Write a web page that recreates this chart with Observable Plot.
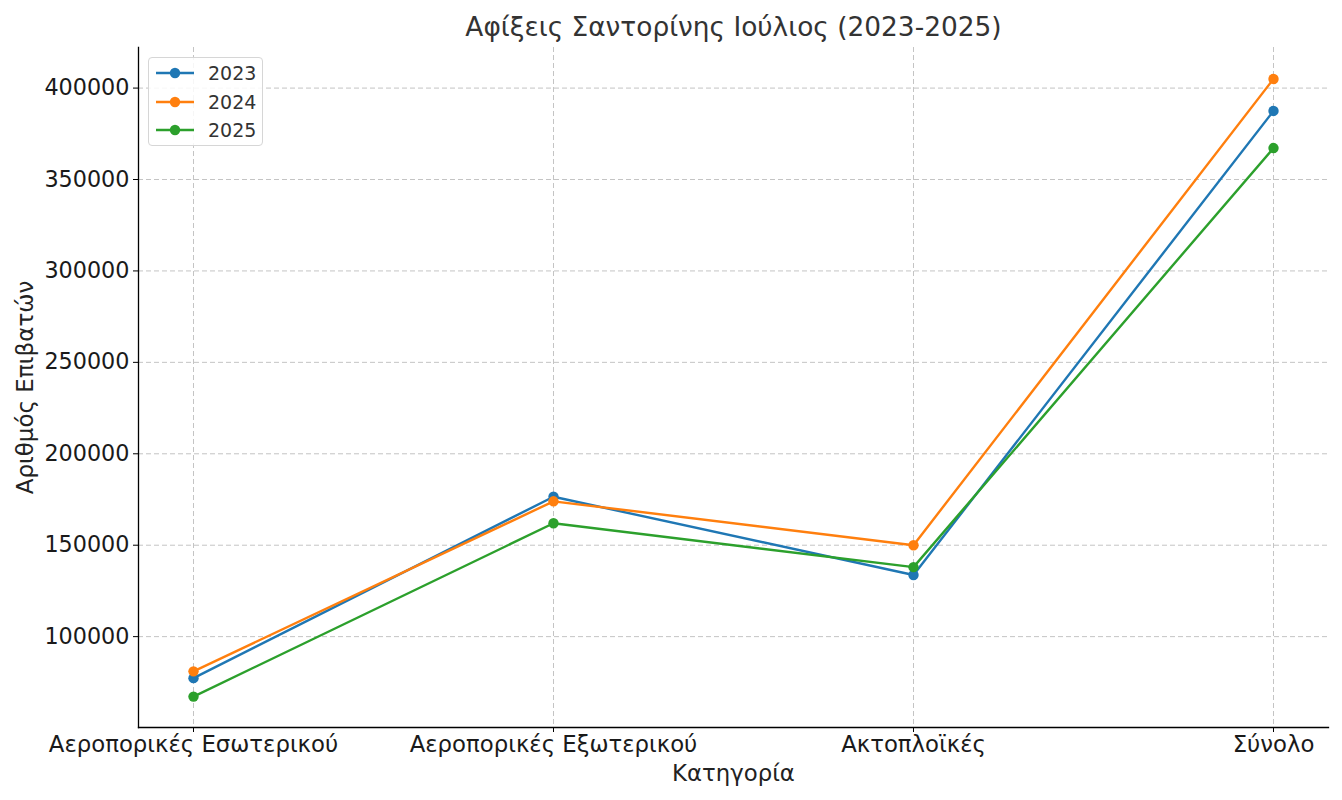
<!DOCTYPE html>
<html>
<head>
<meta charset="utf-8">
<script src="https://cdn.jsdelivr.net/npm/d3@7"></script>
<script src="https://cdn.jsdelivr.net/npm/@observablehq/plot@0.6"></script>
<style>
  html, body { margin: 0; padding: 0; background: #fff; }
  #wrap { position: relative; width: 1342px; height: 800px; font-family: "DejaVu Sans", sans-serif; }
  #legend { position: absolute; left: 148px; top: 57px; width: 113px; height: 87px;
            border: 1px solid #d6d6d6; border-radius: 4px; background: rgba(255,255,255,0.85); }
  .row { position: absolute; left: 0; height: 20px; width: 113px; }
  .row svg { position: absolute; left: 6px; top: 0; }
  .row span { position: absolute; left: 59px; top: -2px; font-size: 19px; color: #333; line-height: 24px; }
</style>
</head>
<body>
<div id="wrap"><div id="legend"></div></div>
<script>
const title = "Αφίξεις Σαντορίνης Ιούλιος (2023-2025)";
const xLabel = "Κατηγορία";
const yLabel = "Αριθμός Επιβατών";
const categories = ["Αεροπορικές Εσωτερικού", "Αεροπορικές Εξωτερικού", "Ακτοπλοϊκές", "Σύνολο"];
const years = ["2023", "2024", "2025"];
const values2023 = [77300, 176500, 133700, 387500];
const values2024 = [81000, 174000, 150000, 405000];
const values2025 = [67200, 162000, 138000, 367200];
const colors = ["#1f77b4", "#ff7f0e", "#2ca02c"];
const yTicks = [100000, 150000, 200000, 250000, 300000, 350000, 400000];

const seriesValues = [values2023, values2024, values2025];
const data = years.flatMap((yr, i) => categories.map((c, j) => ({year: yr, category: c, value: seriesValues[i][j]})));

const seriesMarks = years.flatMap(yr => {
  const d = data.filter(r => r.year === yr);
  return [
    Plot.line(d, {x: "category", y: "value", stroke: "year", strokeWidth: 2.4}),
    Plot.dot(d, {x: "category", y: "value", fill: "year", r: 5.2, stroke: "none"})
  ];
});

const chart = Plot.plot({
  width: 1342,
  height: 800,
  marginTop: 47,
  marginBottom: 73,
  marginLeft: 138,
  marginRight: 14,
  style: {fontFamily: "DejaVu Sans, sans-serif", fontSize: "22px", color: "#1a1a1a", background: "transparent"},
  x: {type: "point", domain: categories, padding: 0.15},
  y: {domain: [50300, 422200]},
  color: {domain: years, range: colors},
  marks: [
    Plot.gridX({stroke: "#b0b0b0", strokeOpacity: 0.75, strokeDasharray: "5,3", strokeWidth: 1}),
    Plot.gridY(yTicks, {stroke: "#b0b0b0", strokeOpacity: 0.75, strokeDasharray: "5,3", strokeWidth: 1}),
    Plot.axisX({tickSize: 5, tickPadding: 3, label: null, stroke: "#000", fontSize: 22.8}),
    Plot.axisY(yTicks, {tickSize: 5, tickPadding: 4, label: null, tickFormat: d3.format("d"), stroke: "#000", fontSize: 22.3}),
    Plot.frame({anchor: "left", stroke: "#000", strokeWidth: 1.3}),
    Plot.frame({anchor: "bottom", stroke: "#000", strokeWidth: 1.3}),
    ...seriesMarks,
    Plot.text([title], {frameAnchor: "top", dy: -20, lineAnchor: "middle", textAnchor: "middle", fontSize: 26.4, fill: "#333"}),
    Plot.text([xLabel], {frameAnchor: "bottom", dy: 46, lineAnchor: "middle", textAnchor: "middle", fontSize: 22.8, fill: "#222"}),
    Plot.text([yLabel], {frameAnchor: "left", dx: -113, rotate: -90, lineAnchor: "middle", textAnchor: "middle", fontSize: 23, fill: "#222"})
  ]
});
document.getElementById("wrap").prepend(chart);

const legend = document.getElementById("legend");
years.forEach((yr, i) => {
  const row = document.createElement("div");
  row.className = "row";
  row.style.top = (5 + i * 28.5) + "px";
  row.innerHTML = `<svg width="40" height="20"><line x1="1" x2="39" y1="10" y2="10" stroke="${colors[i]}" stroke-width="2.4"/><circle cx="20" cy="10" r="5.2" fill="${colors[i]}"/></svg><span>${yr}</span>`;
  legend.appendChild(row);
});
</script>
</body>
</html>
